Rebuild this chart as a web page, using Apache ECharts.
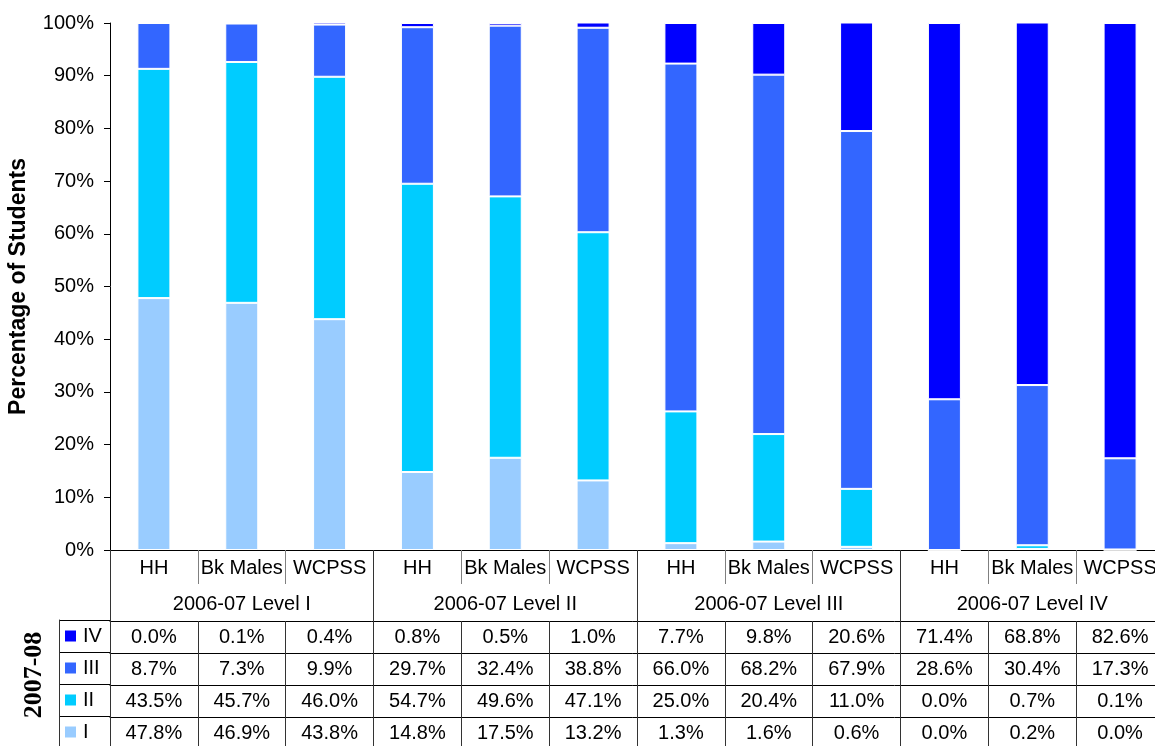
<!DOCTYPE html>
<html>
<head>
<meta charset="utf-8">
<script src="https://cdn.jsdelivr.net/npm/echarts@6/dist/echarts.min.js"></script>
<style>html,body{margin:0;padding:0;background:#fff}#c{width:1155px;height:746px}</style>
</head>
<body>
<div id="c"></div>
<script>
const categories = ['HH','Bk Males','WCPSS','HH','Bk Males','WCPSS','HH','Bk Males','WCPSS','HH','Bk Males','WCPSS'];
const groups = ['2006-07 Level I','2006-07 Level II','2006-07 Level III','2006-07 Level IV'];
const levelIV  = [0.0, 0.1, 0.4, 0.8, 0.5, 1.0, 7.7, 9.8, 20.6, 71.4, 68.8, 82.6];
const levelIII = [8.7, 7.3, 9.9, 29.7, 32.4, 38.8, 66.0, 68.2, 67.9, 28.6, 30.4, 17.3];
const levelII  = [43.5, 45.7, 46.0, 54.7, 49.6, 47.1, 25.0, 20.4, 11.0, 0.0, 0.7, 0.1];
const levelI   = [47.8, 46.9, 43.8, 14.8, 17.5, 13.2, 1.3, 1.6, 0.6, 0.0, 0.2, 0.0];
const rowNames = ['IV','III','II','I'];
const rowColors = ['#0000FF','#3366FF','#00CCFF','#99CCFF'];
const rowData = [levelIV, levelIII, levelII, levelI];
const yMin = 0, yMax = 100, yStep = 10;

const FONT = 'Liberation Sans';
const chart = echarts.init(document.getElementById('c'), null, {renderer: 'canvas'});

const xAxes = [];
xAxes.push({
  gridIndex: 0, type: 'category', data: categories, position: 'bottom', offset: 0,
  axisLine: {show: true, onZero: false, lineStyle: {color: '#000', width: 1}},
  axisTick: {show: true, interval: 0, length: 34, lineStyle: {color: '#808080'}},
  axisLabel: {interval: 0, fontSize: 20, color: '#000', margin: 18, verticalAlign: 'middle', fontFamily: FONT}
});
xAxes.push({
  gridIndex: 0, type: 'category', data: groups, position: 'bottom', offset: 0,
  axisLine: {show: true, onZero: false, lineStyle: {color: '#000', width: 1}},
  axisTick: {show: true, interval: 0, length: 200, lineStyle: {color: '#333'}},
  axisLabel: {interval: 0, fontSize: 20, color: '#000', margin: 54, verticalAlign: 'middle', fontFamily: FONT}
});
rowData.forEach((arr, i) => {
  xAxes.push({
    gridIndex: 0, type: 'category', data: categories, position: 'bottom', offset: 71 + 32 * i,
    axisLine: {show: true, onZero: false, lineStyle: {color: '#000', width: 1}},
    axisTick: {show: true, interval: 0, length: 32, lineStyle: {color: '#333'}},
    axisLabel: {interval: 0, fontSize: 20, color: '#000', margin: 16, verticalAlign: 'middle', fontFamily: FONT,
      formatter: (v, idx) => arr[idx].toFixed(1) + '%'}
  });
});
xAxes.push({gridIndex: 1, type: 'value', show: false, min: 0, max: 1});

const rich = {};
rowColors.forEach((c, i) => { rich['c' + i] = {width: 11, height: 11, backgroundColor: c}; });
rich.t = {fontSize: 20, color: '#000', fontFamily: FONT, padding: [0, 0, 0, 7]};

const series = [
  {name: 'I', data: levelI, color: '#99CCFF'},
  {name: 'II', data: levelII, color: '#00CCFF'},
  {name: 'III', data: levelIII, color: '#3366FF'},
  {name: 'IV', data: levelIV, color: '#0000FF'}
].map(s => ({
  name: s.name, type: 'bar', stack: 'total', xAxisIndex: 0, yAxisIndex: 0,
  data: s.data, barWidth: 33,
  itemStyle: {color: s.color, borderColor: '#fff', borderWidth: 1},
  emphasis: {disabled: true}
}));

chart.setOption({
  animation: false,
  textStyle: {fontFamily: FONT},
  grid: [
    {left: 110, top: 23, width: 1054, height: 527, outerBoundsMode: 'none', containLabel: false},
    {left: 59, top: 620, width: 51, height: 128, outerBoundsMode: 'none', containLabel: false}
  ],
  xAxis: xAxes,
  yAxis: [
    {gridIndex: 0, type: 'value', min: yMin, max: yMax, interval: yStep,
     name: 'Percentage of Students', nameLocation: 'middle', nameRotate: 90, nameGap: 80,
     nameTextStyle: {fontSize: 23, fontWeight: 'bold', color: '#000', fontFamily: FONT},
     axisLine: {show: true, lineStyle: {color: '#000'}},
     axisTick: {show: true, length: 6, lineStyle: {color: '#000'}},
     splitLine: {show: false},
     axisLabel: {formatter: '{value}%', fontSize: 20, color: '#000', margin: 16, fontFamily: FONT}},
    {gridIndex: 1, type: 'category', data: rowNames, inverse: true,
     name: '2007-08', nameLocation: 'middle', nameRotate: 90, nameGap: 12,
     nameTextStyle: {fontSize: 26, fontWeight: 'bold', color: '#000', fontFamily: 'Liberation Serif', padding: [0, 0, 0, 18]},
     axisLine: {show: true, lineStyle: {color: '#333'}},
     axisTick: {show: false},
     splitLine: {show: true, interval: 0, lineStyle: {color: '#000'}},
     axisLabel: {inside: true, interval: 0, margin: 6, align: 'left',
       formatter: (v, idx) => '{c' + idx + '|}{t|' + v + '}', rich: rich}}
  ],
  series: series
});
</script>
</body>
</html>
